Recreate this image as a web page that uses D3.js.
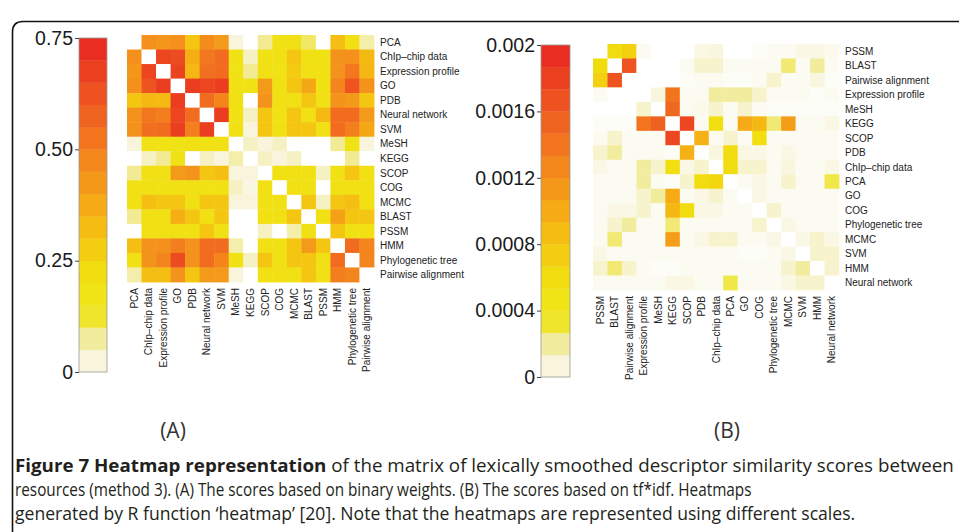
<!DOCTYPE html>
<html>
<head>
  <meta charset="utf-8">
  <title>Figure 7 Heatmap representation</title>
  <script src="https://d3js.org/d3.v7.min.js"></script>
  <style>
    body { margin: 0; background: #fff; }
    .axis path { display: none; }
    .axis line { stroke: #444; }
    .axis text { font-family: "Liberation Sans", Arial, sans-serif; font-size: 19.5px; fill: #1a1a1a; }
    .lab { font-family: "Liberation Sans", Arial, sans-serif; font-size: 10px; fill: #222; }
    .panel { font-family: "Liberation Sans Narrow", "Open Sans", sans-serif; font-size: 21px; fill: #333; }
    .cap { font-family: "Liberation Sans Narrow", "Open Sans", sans-serif; font-size: 17.5px; fill: #231f20; }
  </style>
</head>
<body>
  <div id="chart"></div>
  <script>
    // (A) binary weights
    const labelsA = ["PCA", "ChIp–chip data", "Expression profile", "GO", "PDB", "Neural network", "SVM",
      "MeSH", "KEGG", "SCOP", "COG", "MCMC", "BLAST", "PSSM", "HMM", "Phylogenetic tree", "Pairwise alignment"];
    const valuesA = [
      [null, .45, .43, .45, .30, .46, .42, .05, 0, .08, .18, .20, .10, 0, .32, .20, .07],
      [.45, null, .66, .64, .36, .52, .55, .18, .06, .18, .20, .30, .20, .18, .44, .45, .33],
      [.43, .66, null, .67, .34, .54, .55, .18, .08, .20, .18, .28, .20, .20, .44, .52, .34],
      [.45, .62, .68, null, .68, .66, .68, .18, .18, .42, .20, .30, .38, .18, .48, .62, .44],
      [.30, .34, .33, .68, null, .55, .48, .20, 0, .44, .20, .20, .30, .20, .44, .42, .30],
      [.44, .52, .50, .66, .55, null, .68, .18, .06, .30, .18, .30, .20, .33, .55, .55, .42],
      [.44, .54, .55, .68, .50, .68, null, .20, .05, .30, .20, .30, .30, .20, .55, .50, .38],
      [.05, .18, .18, .18, .20, .18, .20, null, .06, .05, .06, 0, 0, 0, .08, .18, .05],
      [0, .06, .08, .18, 0, .06, .05, .07, null, .06, .05, .06, 0, 0, 0, .08, 0],
      [.08, .20, .20, .42, .44, .30, .32, .05, .05, null, .20, .20, .20, .06, .20, .30, .20],
      [.20, .20, .18, .20, .20, .18, .20, .06, .04, .20, null, .20, .20, 0, .20, .20, .20],
      [.20, .32, .30, .30, .20, .30, .30, .05, .05, .20, .20, null, .30, .06, .30, .32, .20],
      [.08, .20, .20, .36, .30, .20, .30, 0, 0, .20, .20, .30, null, .20, .40, .30, .30],
      [0, .20, .20, .20, .20, .30, .20, 0, 0, .06, 0, .07, .20, null, .30, .20, .20],
      [.32, .44, .45, .50, .44, .55, .55, .07, 0, .20, .20, .30, .42, .30, null, .55, .48],
      [.20, .44, .48, .64, .44, .55, .48, .18, .06, .30, .20, .30, .30, .20, .55, null, .48],
      [.07, .32, .32, .44, .30, .42, .42, .05, 0, .20, .20, .20, .30, .20, .50, .48, null]
    ];
    const maxA = 0.75;
    const ticksA = [0, 0.25, 0.5, 0.75];
    const tickLabelsA = ["0", "0.25", "0.50", "0.75"];

    // (B) tf*idf
    const labelsB = ["PSSM", "BLAST", "Pairwise alignment", "Expression profile", "MeSH", "KEGG", "SCOP", "PDB",
      "ChIp–chip data", "PCA", "GO", "COG", "Phylogenetic tree", "MCMC", "SVM", "HMM", "Neural network"];
    const valuesB = [
      [null, .0006, .0007, .00005, 0, 0, 0, .0001, .00012, 0, 0, .00003, .00005, .00005, .0001, .0001, .00007],
      [.0006, null, .00165, 0, 0, 0, .00005, .00015, .00015, .00005, .00005, .00005, .00005, .00025, .00005, .0002, .00005],
      [.0007, .00165, null, 0, 0, 0, .00003, .00005, .00005, .00003, .00003, .00005, .00015, .00005, .00005, .00012, .00003],
      [.00005, 0, 0, null, .00012, .0014, .00005, .00005, .0002, .0002, .0002, .00015, .00005, .00005, .00005, .00003, .00005],
      [0, 0, 0, .00015, null, .0015, .00005, .00008, .00015, .00005, .00015, .00005, .00003, .00003, .00003, .00003, .00003],
      [.00003, .00003, .00003, .0014, .00155, null, .00175, .00005, .00055, .00005, .001, .0009, .00025, .0011, .00005, .00005, .0001],
      [.00005, .00015, .00005, .00005, .00005, .00175, null, .00095, .00005, .00015, .00005, .00055, .00005, .00005, .00005, .00005, .00005],
      [.00015, .0002, .00005, .00005, .00005, .00003, .00095, null, .00012, .0006, .0001, .0001, .00005, .0001, .00005, .00005, .00005],
      [.0001, .00005, .00005, .0002, .00015, .00055, .0001, .00015, null, .0006, .00015, .00015, .00005, .00012, .00005, .00005, .0001],
      [.00005, .00005, .00005, .0002, .00005, .00003, .00015, .0006, .00065, null, .00005, .0001, .00005, .00015, .00005, .00005, .0003],
      [.00005, .00005, .00005, .00015, .0002, .001, .00005, .0001, .00015, .00005, null, .0001, .00005, .00005, .00005, .00005, .00005],
      [.00005, .0001, .0001, .00015, .00005, .0009, .0006, .0001, .0001, .00005, .00005, null, .00015, .00005, .00005, .00005, .00005],
      [.00005, .00015, .0002, .00005, .00005, .00025, .00005, .00005, .00005, .00005, .00005, .00015, null, .0001, .00005, .00005, .00005],
      [.00005, .00025, .00005, .00005, .00005, .0011, .00005, .0001, .00015, .00015, .00005, .00005, .0001, null, .0001, .00015, .0001],
      [.0001, .00005, .00005, .00005, .00005, .00005, .00005, .00005, .00005, .00005, .00003, .00003, .00005, .0001, null, .00015, .00015],
      [.00015, .00025, .00015, .00005, .00003, .00003, .00005, .00005, .00005, .00005, .00005, .00005, .00005, .00015, .0002, null, .00015],
      [.00005, .00005, .00005, .00005, .00005, .0001, .0001, .00005, .00005, .0003, .00005, .00005, .00005, .0001, .00015, .00015, null]
    ];
    const maxB = 0.002;
    const ticksB = [0, 0.0004, 0.0008, 0.0012, 0.0016, 0.002];
    const tickLabelsB = ["0", "0.0004", "0.0008", "0.0012", "0.0016", "0.002"];

    // colour key bands, low -> high
    const palette = ["#f8f5dc", "#f2ec9e", "#efe52c", "#f0e316", "#f1dc10", "#f3cd10", "#f5bc12", "#f5aa16",
      "#f4981a", "#f3871c", "#f2751e", "#ef6320", "#ed5220", "#eb4020", "#e92d20"];

    const captionLines = [
      [["Figure 7 Heatmap representation", true], [" of the matrix of lexically smoothed descriptor similarity scores between", false]],
      [["resources (method 3). (A) The scores based on binary weights. (B) The scores based on tf*idf. Heatmaps", false]],
      [["generated by R function ‘heatmap’ [20]. Note that the heatmaps are represented using different scales.", false]]
    ];

    const width = 959;
    const height = 532;

    const svg = d3.select("#chart")
      .append("svg")
      .attr("width", width)
      .attr("height", height);

    // frame
    svg.append("path")
      .attr("d", "M12.5,532 V32 Q12.5,21.5 23,21.5 H959")
      .attr("fill", "none")
      .attr("stroke", "#111")
      .attr("stroke-width", 1.6);

    function drawPanel(p) {
      const nb = palette.length;
      // white at 0, first band colour at the top of the first band, then band centres
      const stops = d3.range(nb).map(i => i === 0 ? p.max / nb : p.max * (i + 0.5) / nb);
      const color = d3.scaleLinear()
        .domain([0, ...stops])
        .range(["#ffffff", ...palette])
        .clamp(true);

      // colour key
      const yKey = d3.scaleLinear().domain([0, p.max]).range([p.keyY1, p.keyY0]);
      const key = svg.append("g");
      key.selectAll("rect.band")
        .data(d3.range(nb))
        .join("rect")
        .attr("class", "band")
        .attr("x", p.keyX)
        .attr("width", p.keyW)
        .attr("y", i => yKey(p.max * (i + 1) / nb))
        .attr("height", i => yKey(p.max * i / nb) - yKey(p.max * (i + 1) / nb) + 0.3)
        .attr("fill", i => palette[i]);
      key.append("rect")
        .attr("x", p.keyX)
        .attr("y", p.keyY0)
        .attr("width", p.keyW)
        .attr("height", p.keyY1 - p.keyY0)
        .attr("fill", "none")
        .attr("stroke", "#999")
        .attr("stroke-width", 0.8);
      key.append("g")
        .attr("class", "axis")
        .attr("transform", `translate(${p.keyX},0)`)
        .call(d3.axisLeft(yKey)
          .tickValues(p.ticks)
          .tickFormat((d, i) => p.tickLabels[i])
          .tickSize(4)
          .tickPadding(2));

      // heatmap cells
      const n = p.labels.length;
      const x = d3.scaleBand().domain(d3.range(n)).range([p.gx, p.gx + p.size]);
      const y = d3.scaleBand().domain(d3.range(n)).range([p.gy, p.gy + p.size]);
      const cells = [];
      p.values.forEach((row, r) => row.forEach((v, c) => cells.push({ r, c, v })));
      svg.append("g")
        .selectAll("rect")
        .data(cells)
        .join("rect")
        .attr("x", d => x(d.c))
        .attr("y", d => y(d.r))
        .attr("width", x.bandwidth() + 0.4)
        .attr("height", y.bandwidth() + 0.4)
        .attr("fill", d => d.v == null ? "#ffffff" : color(d.v));

      // row labels (right)
      svg.append("g")
        .selectAll("text")
        .data(p.labels)
        .join("text")
        .attr("class", "lab")
        .attr("x", p.gx + p.size + 6)
        .attr("y", (d, i) => y(i) + y.bandwidth() / 2)
        .attr("dy", "0.35em")
        .text(d => d);

      // column labels (bottom, vertical)
      svg.append("g")
        .selectAll("text")
        .data(p.labels)
        .join("text")
        .attr("class", "lab")
        .attr("text-anchor", "end")
        .attr("dy", "0.35em")
        .attr("transform", (d, i) => `translate(${x(i) + x.bandwidth() / 2},${p.gy + p.size + 6}) rotate(-90)`)
        .text(d => d);

      svg.append("text")
        .attr("class", "panel")
        .attr("x", p.tagX)
        .attr("y", 438)
        .attr("text-anchor", "middle")
        .text(p.tag);
    }

    drawPanel({
      labels: labelsA, values: valuesA, max: maxA, ticks: ticksA, tickLabels: tickLabelsA,
      keyX: 79, keyW: 28, keyY0: 38, keyY1: 372,
      gx: 127, gy: 35, size: 247, tag: "(A)", tagX: 173
    });

    drawPanel({
      labels: labelsB, values: valuesB, max: maxB, ticks: ticksB, tickLabels: tickLabelsB,
      keyX: 541, keyW: 29, keyY0: 45, keyY1: 377,
      gx: 593, gy: 44, size: 246, tag: "(B)", tagX: 727
    });

    // caption, each line stretched to the width in the figure
    const capBase = [472, 496, 520];
    const capEnd = [955, 752, 856];
    captionLines.forEach((parts, i) => {
      const t = svg.append("text")
        .attr("class", "cap")
        .attr("x", 0)
        .attr("y", 0);
      parts.forEach(([s, bold]) => {
        t.append("tspan")
          .attr("font-weight", bold ? "bold" : "normal")
          .text(s);
      });
      const w = t.node().getComputedTextLength();
      const k = (capEnd[i] - 15) / w;
      t.attr("transform", `translate(15,${capBase[i]}) scale(${k},1)`);
    });
  </script>
</body>
</html>
